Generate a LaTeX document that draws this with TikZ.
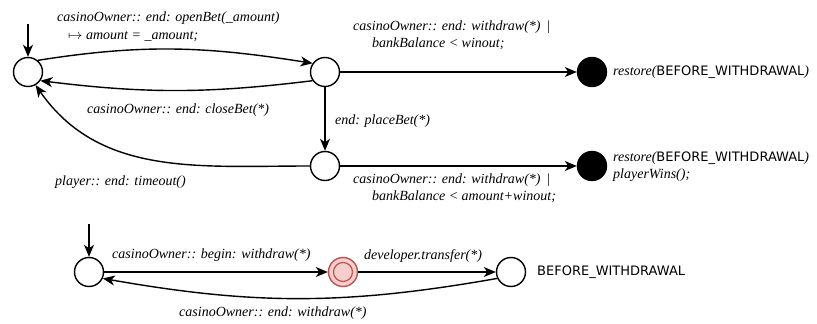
\documentclass[tikz,border=0pt]{standalone}
\usepackage{fontspec}
\setmainfont{Liberation Serif}
\newfontfamily\labserif{Liberation Serif}
\newfontfamily\labsans{DejaVu Sans}
\usetikzlibrary{arrows.meta}
\definecolor{errfill}{HTML}{F8CECC}
\definecolor{errline}{HTML}{B85450}
\begin{document}
\begin{tikzpicture}[x=1pt,y=-1pt,
  st/.style={circle,draw=black,line width=1.4pt,fill=white,minimum size=29pt,inner sep=0pt},
  fin/.style={circle,draw=black,fill=black,line width=1.4pt,minimum size=29pt,inner sep=0pt},
  errst/.style={circle,draw=errline,fill=errfill,line width=1.4pt,minimum size=29pt,inner sep=0pt},
  errin/.style={circle,draw=errline,line width=1.2pt,minimum size=19pt,inner sep=0pt},
  edge/.style={line width=1.4pt,-{Stealth[length=12pt,width=10pt,inset=3.5pt]}},
  lab/.style={anchor=west,inner sep=0pt,font=\fontsize{14}{16}\selectfont\labserif\itshape},
  sans/.style={anchor=west,inner sep=0pt,font=\fontsize{13}{16}\selectfont\labsans}]
\path[use as bounding box] (0,0) rectangle (817,324);

% states
\node[st] (A) at (28,72) {};
\node[st] (B) at (325,72) {};
\node[fin] (F1) at (592,72) {};
\node[st] (C) at (325,166) {};
\node[fin] (F2) at (592,166) {};
\node[st] (D) at (89,272) {};
\node[errst] (M) at (343,272) {};
\node[errin] (Mi) at (343,272) {};
\node[st] (E) at (511,272) {};
\coordinate (a0) at (28,24);
\coordinate (d0) at (89,224);

% connectors
\draw[edge] (a0) -- (A);
\draw[edge] (A.50) to[out=9,in=171] (B.145);
\draw[edge] (B.215) to[out=187,in=-7] (A.-35);
\draw[edge] (B) -- (F1);
\draw[edge] (B) -- (C);
\draw[edge] (C) -- (F2);
\draw[edge] (C.west) to[out=180,in=-55] (A.-60);
\draw[edge] (d0) -- (D);
\draw[edge] (D) -- (M);
\draw[edge] (M) -- (E);
\draw[edge] (E.205) to[out=190,in=-10] (D.-25);

% labels
\node[lab] (l1a) at (57,18) {casinoOwner:: end: openBet(\_amount)};
\node[lab] (l1b) at (68,37) {$\mapsto$ amount = \_amount;};
\node[lab] (l2a) at (353,27) {casinoOwner:: end: withdraw(*) \,|};
\node[lab] (l2b) at (372,44) {bankBalance < winout;};
\node[lab] (l3) at (613,72) {restore({\upshape\labsans\fontsize{13}{16}\selectfont BEFORE\_WITHDRAWAL})};
\node[lab] (l4) at (87,110) {casinoOwner:: end: closeBet(*)};
\node[lab] (l5) at (335,121) {end: placeBet(*)};
\node[lab] (l6) at (55,182) {player:: end: timeout()};
\node[lab] (l7a) at (353,180) {casinoOwner:: end: withdraw(*) \,|};
\node[lab] (l7b) at (372,197) {bankBalance < amount+winout;};
\node[lab] (l8a) at (613,158) {restore({\upshape\labsans\fontsize{13}{16}\selectfont BEFORE\_WITHDRAWAL})};
\node[lab] (l8b) at (613,175) {playerWins();};
\node[lab] (l9) at (112,255) {casinoOwner:: begin: withdraw(*)};
\node[lab] (l10) at (364,256) {developer.transfer(*)};
\node[lab] (l11) at (179,313) {casinoOwner:: end: withdraw(*)};
\node[sans] (l12) at (537,272) {BEFORE\_WITHDRAWAL};
\end{tikzpicture}
\end{document}
